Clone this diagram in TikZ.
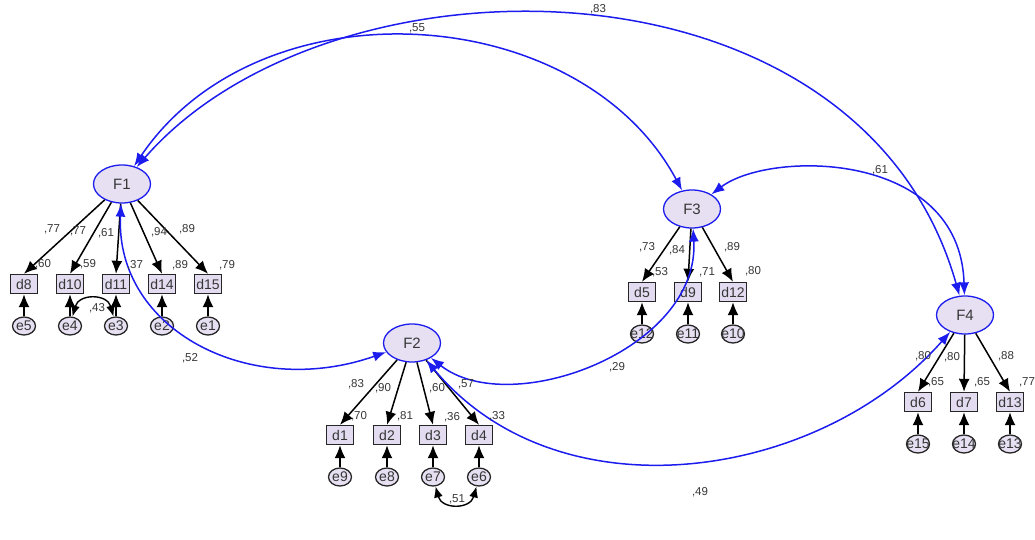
\documentclass[tikz,border=0pt]{standalone}
\usepackage{fontspec}
\setmainfont{Liberation Sans}
\usetikzlibrary{shapes.geometric,arrows.meta}

\definecolor{latfill}{HTML}{E7E0F2}
\definecolor{obsfill}{HTML}{E3DBEF}
\definecolor{pathblue}{RGB}{28,28,238}
\definecolor{numgray}{HTML}{363636}

\tikzstyle{factor} = [draw=pathblue,line width=1.3pt,ellipse,fill=latfill,inner sep=0pt,minimum width=57pt,minimum height=38pt,font=\fontsize{15}{17}\selectfont,text=numgray]
\tikzstyle{item} = [draw=black!85,line width=1.4pt,rectangle,fill=obsfill,inner sep=0pt,minimum width=27pt,minimum height=19pt,font=\fontsize{14}{16}\selectfont,text=numgray]
\tikzstyle{resid} = [draw=black!85,line width=1.3pt,ellipse,fill=latfill,inner sep=-4pt,minimum width=23pt,minimum height=18pt,font=\fontsize{14}{16}\selectfont,text=numgray]
\tikzstyle{coef} = [font=\fontsize{11.5}{13}\selectfont,text=numgray,inner sep=0pt]
\tikzstyle{load} = [draw=black,line width=1.5pt,-{Latex[length=13pt,width=11pt]}]
\tikzstyle{corr} = [draw=pathblue,line width=1.5pt,{Latex[length=13pt,width=10pt]}-{Latex[length=13pt,width=10pt]}]
\tikzstyle{cov} = [draw=black,line width=1.4pt,{Latex[length=11pt,width=9pt]}-{Latex[length=11pt,width=9pt]}]

\begin{document}
\begin{tikzpicture}[x=1pt,y=-1pt]
    \useasboundingbox (0,0) rectangle (1035,540);

    % latent factors
    \coordinate (F1) at (122,184);
    \coordinate (F2) at (412,343);
    \coordinate (F3) at (692,209);
    \coordinate (F4) at (965,315);

    \node [style=factor] (F1) at (F1) {F1};
    \node [style=factor] (F2) at (F2) {F2};
    \node [style=factor] (F3) at (F3) {F3};
    \node [style=factor] (F4) at (F4) {F4};

    % indicators of F1
    \node [style=item] (d8)  at (24,284)  {d8};
    \node [style=item] (d10) at (70,284)  {d10};
    \node [style=item] (d11) at (116,284) {d11};
    \node [style=item] (d14) at (162,284) {d14};
    \node [style=item] (d15) at (208,284) {d15};
    \node [style=resid] (e5) at (24,326)  {e5};
    \node [style=resid] (e4) at (70,326)  {e4};
    \node [style=resid] (e3) at (116,326) {e3};
    \node [style=resid] (e2) at (162,326) {e2};
    \node [style=resid] (e1) at (208,326) {e1};

    % indicators of F2
    \node [style=item] (d1) at (340,435) {d1};
    \node [style=item] (d2) at (387,435) {d2};
    \node [style=item] (d3) at (433,435) {d3};
    \node [style=item] (d4) at (479,435) {d4};
    \node [style=resid] (e9) at (340,477) {e9};
    \node [style=resid] (e8) at (387,477) {e8};
    \node [style=resid] (e7) at (433,477) {e7};
    \node [style=resid] (e6) at (479,477) {e6};

    % indicators of F3
    \node [style=item] (d5)  at (642,292) {d5};
    \node [style=item] (d9)  at (688,292) {d9};
    \node [style=item] (d12) at (733,292) {d12};
    \node [style=resid] (e12) at (642,334) {e12};
    \node [style=resid] (e11) at (688,334) {e11};
    \node [style=resid] (e10) at (733,334) {e10};

    % indicators of F4
    \node [style=item] (d6)  at (918,402)  {d6};
    \node [style=item] (d7)  at (964,402)  {d7};
    \node [style=item] (d13) at (1010,402) {d13};
    \node [style=resid] (e15) at (918,444)  {e15};
    \node [style=resid] (e14) at (964,444)  {e14};
    \node [style=resid] (e13) at (1010,444) {e13};

    % loadings
    \draw [style=load] (F1) -- (d8.north);
    \draw [style=load] (F1) -- (d10.north);
    \draw [style=load] (F1) -- (d11.north);
    \draw [style=load] (F1) -- (d14.north);
    \draw [style=load] (F1) -- (d15.north);
    \draw [style=load] (F2) -- (d1.north);
    \draw [style=load] (F2) -- (d2.north);
    \draw [style=load] (F2) -- (d3.north);
    \draw [style=load] (F2) -- (d4.north);
    \draw [style=load] (F3) -- (d5.north);
    \draw [style=load] (F3) -- (d9.north);
    \draw [style=load] (F3) -- (d12.north);
    \draw [style=load] (F4) -- (d6.north);
    \draw [style=load] (F4) -- (d7.north);
    \draw [style=load] (F4) -- (d13.north);

    % residuals
    \draw [style=load] (e5) -- (d8);
    \draw [style=load] (e4) -- (d10);
    \draw [style=load] (e3) -- (d11);
    \draw [style=load] (e2) -- (d14);
    \draw [style=load] (e1) -- (d15);
    \draw [style=load] (e9) -- (d1);
    \draw [style=load] (e8) -- (d2);
    \draw [style=load] (e7) -- (d3);
    \draw [style=load] (e6) -- (d4);
    \draw [style=load] (e12) -- (d5);
    \draw [style=load] (e11) -- (d9);
    \draw [style=load] (e10) -- (d12);
    \draw [style=load] (e15) -- (d6);
    \draw [style=load] (e14) -- (d7);
    \draw [style=load] (e13) -- (d13);

    % error covariances
    \draw [style=cov] (e4) to [out=75,in=105,looseness=1.5] (e3);
    \draw [style=cov] (e7) to [out=-75,in=-105,looseness=1.5] (e6);

    % factor correlations
    \draw [style=corr] (F1) .. controls (330,-55) and (860,-55) .. (F4);
    \draw [style=corr] (F1) .. controls (260,-20) and (580,0) .. (F3);
    \draw [style=corr] (F3) .. controls (770,150) and (960,150) .. (F4);
    \draw [style=corr] (F1) .. controls (115,330) and (250,400) .. (F2);
    \draw [style=corr] (F2) .. controls (510,420) and (700,350) .. (F3);
    \draw [style=corr] (F2) .. controls (560,520) and (820,480) .. (F4);

    % estimates
    \node [style=coef] (l8)  at (52,229)  {,77};
    \node [style=coef] (l10) at (78,231)  {,77};
    \node [style=coef] (l11) at (106,233) {,61};
    \node [style=coef] (l14) at (159,232) {,94};
    \node [style=coef] (l15) at (187,229) {,89};
    \node [style=coef] (r8)  at (43,264)  {,60};
    \node [style=coef] (r10) at (88,264)  {,59};
    \node [style=coef] (r11) at (135,265) {,37};
    \node [style=coef] (r14) at (180,265) {,89};
    \node [style=coef] (r15) at (227,265) {,79};
    \node [style=coef] (c43) at (97,308)  {,43};

    \node [style=coef] (l1) at (356,384) {,83};
    \node [style=coef] (l2) at (383,388) {,90};
    \node [style=coef] (l3) at (437,388) {,60};
    \node [style=coef] (l4) at (466,384) {,57};
    \node [style=coef] (r1) at (359,416) {,70};
    \node [style=coef] (r2) at (405,416) {,81};
    \node [style=coef] (r3) at (452,417) {,36};
    \node [style=coef] (r4) at (497,416) {,33};
    \node [style=coef] (c76) at (457,499) {,51};

    \node [style=coef] (l5)  at (647,247) {,73};
    \node [style=coef] (l9)  at (677,250) {,84};
    \node [style=coef] (l12) at (732,247) {,89};
    \node [style=coef] (r5)  at (660,272) {,53};
    \node [style=coef] (r9)  at (707,272) {,71};
    \node [style=coef] (r12) at (753,271) {,80};

    \node [style=coef] (l6)  at (923,356)  {,80};
    \node [style=coef] (l7)  at (952,357)  {,80};
    \node [style=coef] (l13) at (1006,356) {,88};
    \node [style=coef] (r6)  at (936,382)  {,65};
    \node [style=coef] (r7)  at (982,382)  {,65};
    \node [style=coef] (r13) at (1027,382) {,77};

    \node [style=coef] (k14) at (598,9)   {,83};
    \node [style=coef] (k13) at (417,28)  {,55};
    \node [style=coef] (k34) at (880,170) {,61};
    \node [style=coef] (k12) at (190,358) {,52};
    \node [style=coef] (k23) at (617,367) {,29};
    \node [style=coef] (k24) at (700,492) {,49};
\end{tikzpicture}
\end{document}
